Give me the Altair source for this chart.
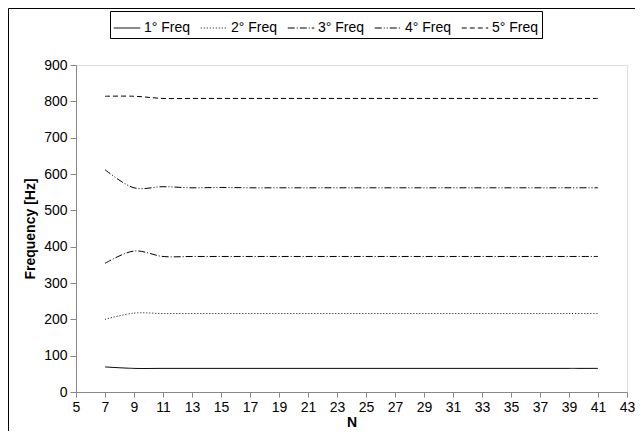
import altair as alt
import pandas as pd

N = [7, 9, 11, 13, 15, 17, 19, 21, 23, 25, 27, 29, 31, 33, 35, 37, 39, 41]
f1 = [69, 65, 65, 65, 65, 65, 65, 65, 65, 65, 65, 65, 65, 65, 65, 65, 65, 65]
f2 = [200, 217, 216, 216, 216, 216, 216, 216, 216, 216, 216, 216, 216, 216, 216, 216, 216, 216]
f3 = [354, 388, 373, 373, 373, 373, 373, 373, 373, 373, 373, 373, 373, 373, 373, 373, 373, 373]
f4 = [612, 562, 565, 562, 563, 562, 562, 562, 562, 562, 562, 562, 562, 562, 562, 562, 562, 562]
f5 = [814, 814, 808, 808, 808, 808, 808, 808, 808, 808, 808, 808, 808, 808, 808, 808, 808, 808]
series_names = ["1° Freq", "2° Freq", "3° Freq", "4° Freq", "5° Freq"]
dashes = [[1, 0], [1, 2], [7, 2, 1, 2], [7, 2, 1, 2, 1, 2], [5, 3]]
x_ticks = list(range(5, 44, 2))
y_ticks = list(range(0, 901, 100))

rows = []
for name, vals in zip(series_names, [f1, f2, f3, f4, f5]):
    for n, v in zip(N, vals):
        rows.append({"N": n, "freq": v, "series": name})
df = pd.DataFrame(rows)

FONT = "Liberation Sans"
W, H = 551, 327
PL, PT, PR, PB = 68, 57, 8, 39

lines = alt.Chart(df).mark_line(color="black", strokeWidth=1, interpolate="catmull-rom").encode(
    x=alt.X("N:Q", scale=alt.Scale(domain=[5, 43], nice=False, zero=False),
            axis=alt.Axis(values=x_ticks, title="N", grid=False, tickSize=5,
                          labelFontSize=14, titleFontSize=14, titleFontWeight="bold",
                          labelPadding=3, titlePadding=1, labelFlush=False)),
    y=alt.Y("freq:Q", scale=alt.Scale(domain=[0, 900], nice=False),
            axis=alt.Axis(values=y_ticks, title="Frequency [Hz]", grid=False, tickSize=6,
                          labelFontSize=14, titleFontSize=14, titleFontWeight="bold",
                          labelPadding=3, titlePadding=6)),
    strokeDash=alt.StrokeDash("series:N",
                              scale=alt.Scale(domain=series_names, range=dashes),
                              legend=alt.Legend(title=None, orient="none", legendX=34, legendY=-54,
                                                direction="horizontal", columns=5,
                                                symbolType="stroke", symbolSize=700,
                                                symbolStrokeColor="black", symbolStrokeWidth=1,
                                                labelFontSize=14, labelFont=FONT, labelColor="black",
                                                columnPadding=7, labelOffset=3,
                                                strokeColor="black", fillColor="white", padding=3)),
    detail="series:N",
)

border_df = pd.DataFrame({"k": [0]})
left_border = alt.Chart(border_df).mark_rule(color="black", strokeWidth=1).encode(
    x=alt.value(-PL + 0.5), y=alt.value(-PT + 0.5), y2=alt.value(H + PB)
)
top_border = alt.Chart(border_df).mark_rule(color="black", strokeWidth=1).encode(
    x=alt.value(-PL + 0.5), x2=alt.value(W + PR), y=alt.value(-PT + 0.5)
)

chart = alt.layer(lines, left_border, top_border).properties(
    width=W, height=H,
    autosize=alt.AutoSizeParams(type="none"),
    padding={"left": PL, "top": PT, "right": PR, "bottom": PB},
).configure_view(stroke=None).configure_axis(
    labelFont=FONT, titleFont=FONT, labelColor="black", titleColor="black",
    domainColor="black", tickColor="black", domainWidth=1, tickWidth=1,
).configure(background="white")

chart.save("out.html", embed_options={"renderer": "svg", "actions": False})
